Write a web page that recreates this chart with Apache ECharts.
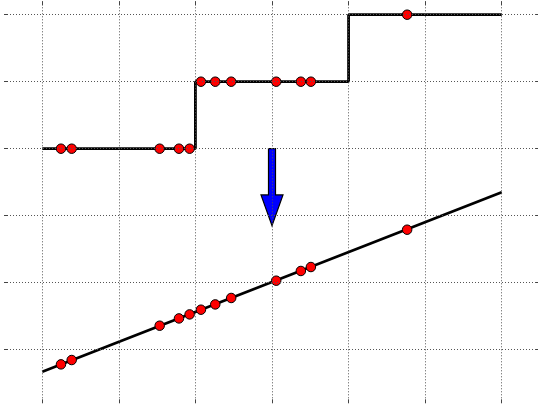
<!DOCTYPE html>
<html>
<head>
<meta charset="utf-8">
<script src="https://cdn.jsdelivr.net/npm/echarts@6/dist/echarts.min.js"></script>
<style>html,body{margin:0;padding:0;background:#fff;}#chart{width:538px;height:412px;}</style>
</head>
<body>
<div id="chart"></div>
<script>
// Data (axis units)
var xTicks = [0, 1, 2, 3, 4, 5, 6];
var yTicks = [0, 1, 2, 3, 4, 5];
var stepX = [0, 2, 4, 6];
var stepY = [3, 4, 5, 5];
var pointX = [0.244, 0.384, 1.533, 1.785, 1.924, 2.072, 2.259, 2.467, 3.055, 3.377, 3.508, 4.765];
var pointStepY = [3, 3, 3, 3, 3, 4, 4, 4, 4, 4, 4, 5];
var pointLineY = [-0.219, -0.154, 0.358, 0.467, 0.527, 0.597, 0.676, 0.772, 1.030, 1.175, 1.234, 1.791];
var fitX = [0, 6];
var fitY = [-0.33, 2.35];
var arrowX = [3];
var arrowTopY = [3];
var arrowHeadBaseY = [2.31];
var arrowTipY = [1.85];

function pairs(xs, ys) { return xs.map(function (x, i) { return [x, ys[i]]; }); }

var gridLine = { show: true,
  lineStyle: { color: '#555', width: 1, type: [1, 2] } };
function ticks(vals) {
  return { show: true, inside: true, length: 4, customValues: vals,
    lineStyle: { color: '#444', width: 1 } };
}
var noLine = { show: false, onZero: false };

var chart = echarts.init(document.getElementById('chart'), null, { renderer: 'canvas' });
chart.setOption({
  animation: false,
  backgroundColor: '#fff',
  grid: { left: 4, top: 1.3, width: 536, height: 402, containLabel: false, outerBoundsMode: 'none' },
  xAxis: [
    { type: 'value', min: -0.5, max: 6.5, splitNumber: 7, position: 'bottom', z: 10,
      axisLine: noLine, axisLabel: { show: false },
      axisTick: ticks(xTicks), splitLine: gridLine },
    { type: 'value', min: -0.5, max: 6.5, splitNumber: 7, position: 'top', z: 10,
      axisLine: noLine, axisLabel: { show: false },
      axisTick: ticks(xTicks), splitLine: { show: false } }
  ],
  yAxis: [
    { type: 'value', min: -0.8, max: 5.2, splitNumber: 6, position: 'left', z: 10,
      axisLine: noLine, axisLabel: { show: false },
      axisTick: ticks(yTicks), splitLine: gridLine },
    { type: 'value', min: -0.8, max: 5.2, splitNumber: 6, position: 'right', z: 10,
      axisLine: noLine, axisLabel: { show: false },
      axisTick: ticks(yTicks), splitLine: { show: false } }
  ],
  series: [
    { type: 'line', step: 'end', data: pairs(stepX, stepY), showSymbol: false, symbol: 'none',
      lineStyle: { color: '#000', width: 2.8 }, z: 2 },
    { type: 'line', data: pairs(fitX, fitY), showSymbol: false, symbol: 'none',
      lineStyle: { color: '#000', width: 2.8 }, z: 2 },
    { type: 'scatter', data: pairs(pointX, pointStepY), symbol: 'circle', symbolSize: 9.5,
      itemStyle: { color: '#ff0000', borderColor: '#000', borderWidth: 1, opacity: 1 }, z: 3 },
    { type: 'scatter', data: pairs(pointX, pointLineY), symbol: 'circle', symbolSize: 9.5,
      itemStyle: { color: '#ff0000', borderColor: '#000', borderWidth: 1, opacity: 1 }, z: 3 },
    { type: 'custom', z: 3,
      data: arrowX.map(function (x, i) { return [x, arrowTopY[i], arrowHeadBaseY[i], arrowTipY[i]]; }),
      renderItem: function (params, api) {
        var top = api.coord([api.value(0), api.value(1)]);
        var base = api.coord([api.value(0), api.value(2)]);
        var tip = api.coord([api.value(0), api.value(3)]);
        var sw = 3.5, hw = 11;
        var cx = top[0];
        return {
          type: 'polygon',
          shape: { points: [
            [cx - sw, top[1]], [cx + sw, top[1]], [cx + sw, base[1]], [cx + hw, base[1]],
            [cx, tip[1]], [cx - hw, base[1]], [cx - sw, base[1]]
          ] },
          style: { fill: '#0000ff', stroke: '#000', lineWidth: 1.2 }
        };
      }
    }
  ]
});
</script>
</body>
</html>
